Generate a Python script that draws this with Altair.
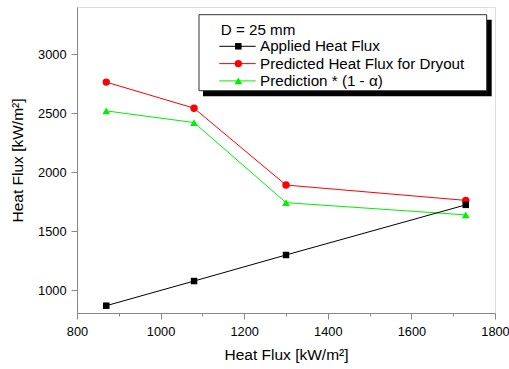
import altair as alt
import pandas as pd

# Measured values
x_flux = [870, 1080, 1300, 1730]
applied = [867, 1076, 1297, 1722]
predicted = [2763, 2542, 1890, 1760]
pred_alpha = [2519, 2420, 1741, 1637]

series_names = ["Applied Heat Flux", "Predicted Heat Flux for Dryout", "Prediction * (1 - \u03b1)"]
series_colors = ["#000000", "#FF0000", "#00F000"]
series_shapes = ["square", "circle", "triangle-up"]
legend_title = "D = 25 mm"

x_ticks = [800, 900, 1000, 1100, 1200, 1300, 1400, 1500, 1600, 1700, 1800]
y_ticks = [1000, 1250, 1500, 1750, 2000, 2250, 2500, 2750, 3000, 3250]

FONT = "Liberation Sans"
W, H = 418, 306

rows = []
for name, vals in zip(series_names, [applied, predicted, pred_alpha]):
    for xv, yv in zip(x_flux, vals):
        rows.append({"series": name, "x": xv, "y": yv})
df = pd.DataFrame(rows)

xs = alt.Scale(domain=[800, 1800], nice=False, zero=False)
ys = alt.Scale(domain=[805, 3400], nice=False, zero=False)

x_axis = alt.Axis(
    title="Heat Flux [kW/m\u00b2]", values=x_ticks,
    labelExpr="datum.value % 200 === 0 ? datum.label : ''",
    tickSize={"condition": {"test": "datum.value % 200 === 0", "value": 6}, "value": 3},
    grid=False, format="d", labelFontSize=12.8, titleFontSize=15.5, labelFlush=False,
    titleFontWeight="normal", labelPadding=6, titlePadding=10,
)
y_axis = alt.Axis(
    title="Heat Flux [kW/m\u00b2]", values=y_ticks,
    labelExpr="datum.value % 500 === 0 ? datum.label : ''",
    tickSize={"condition": {"test": "datum.value % 500 === 0", "value": 6}, "value": 3},
    grid=False, format="d", labelFontSize=12.8, titleFontSize=15.5, labelFlush=False,
    titleFontWeight="normal", labelPadding=5, titlePadding=12,
)

color = alt.Color("series:N", scale=alt.Scale(domain=series_names, range=series_colors), legend=None)
shape = alt.Shape("series:N", scale=alt.Scale(domain=series_names, range=series_shapes), legend=None)

marker_size = {series_names[0]: 42, series_names[1]: 55, series_names[2]: 60}

layers = []
# draw red and green first, black on top
for name in [series_names[1], series_names[2], series_names[0]]:
    sub = df[df.series == name]
    base = alt.Chart(sub)
    layers.append(base.mark_line(strokeWidth=1).encode(
        x=alt.X("x:Q", scale=xs, axis=x_axis), y=alt.Y("y:Q", scale=ys, axis=y_axis), color=color))
    layers.append(base.mark_point(filled=True, opacity=1, size=marker_size[name]).encode(
        x="x:Q", y="y:Q", color=color, shape=shape))

# Legend box with drop shadow
bx0, bx1, by0, by1 = 122, 409.7, 7.7, 83.7
layers.append(alt.Chart(pd.DataFrame({"a": [0]})).mark_rect(color="black").encode(
    x=alt.value(bx0 + 4), x2=alt.value(bx1 + 5), y=alt.value(by0 + 5), y2=alt.value(by1 + 5.5)))
layers.append(alt.Chart(pd.DataFrame({"a": [0]})).mark_rect(fill="white", stroke="#333333", strokeWidth=1).encode(
    x=alt.value(bx0), x2=alt.value(bx1), y=alt.value(by0), y2=alt.value(by1)))
layers.append(alt.Chart(pd.DataFrame({"t": [legend_title]})).mark_text(
    align="left", baseline="middle", font=FONT, fontSize=15.2, color="black").encode(
    x=alt.value(143.7), y=alt.value(23), text="t:N"))
for i, name in enumerate(series_names):
    yy = 39.3 + i * 17.3
    one = pd.DataFrame({"series": [name]})
    layers.append(alt.Chart(one).mark_rule(strokeWidth=1).encode(
        x=alt.value(142.3), x2=alt.value(178.7), y=alt.value(yy), color=color))
    layers.append(alt.Chart(one).mark_point(filled=True, opacity=1, size=marker_size[name]).encode(
        x=alt.value(161.3), y=alt.value(yy), color=color, shape=shape))
    layers.append(alt.Chart(one).mark_text(
        align="left", baseline="middle", font=FONT, fontSize=15.2, color="black").encode(
        x=alt.value(183), y=alt.value(yy), text="series:N"))

chart = alt.layer(*layers).properties(
    width=W, height=H, autosize=alt.AutoSizeParams(type="none"),
    padding={"left": 77, "top": 7, "right": 509 - 77 - W, "bottom": 369 - 7 - H},
).configure_view(stroke="black", strokeWidth=1).configure_axis(
    domainColor="black", tickColor="black", labelColor="black", titleColor="black",
    labelFont=FONT, titleFont=FONT, domainWidth=1, tickWidth=1,
).configure(background="white")

chart.save("out.html", embed_options={"renderer": "svg", "actions": False})
